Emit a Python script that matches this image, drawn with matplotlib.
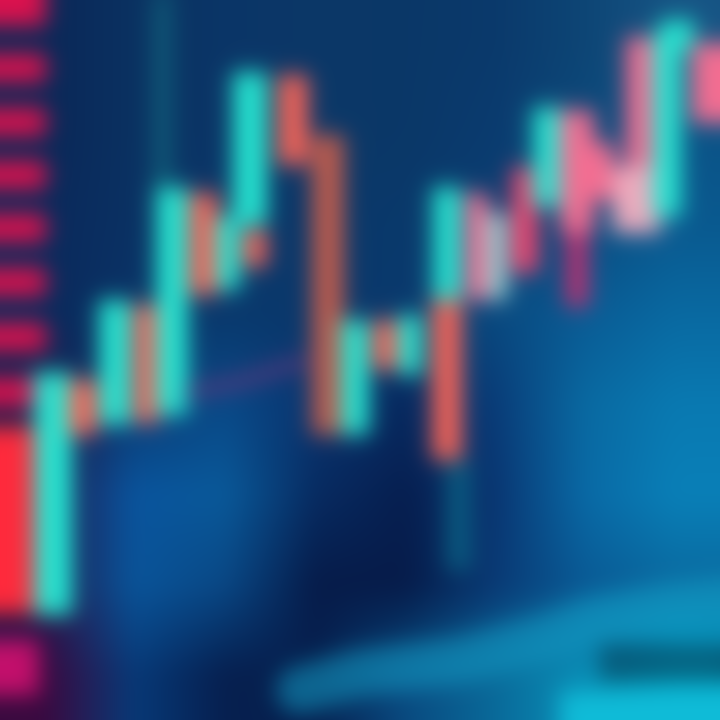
import numpy as np
import matplotlib
matplotlib.use('Agg')
import matplotlib.pyplot as plt
from matplotlib.colors import to_rgb


# candles: position, open, close (price units, 0 = bottom, 720 = top)
cx     = [53, 83, 115, 147, 172, 204, 228, 250, 255, 293, 328, 355, 385, 410, 447, 447, 477, 497, 525, 547, 577, 603, 637, 640, 667, 677, 707]
opens  = [105, 340, 295, 415, 305, 527, 430, 495, 490, 645, 585, 285, 400, 345, 390, 420, 527, 420, 553, 513, 610, 577, 553, 683, 503, 670, 677]
closes = [348, 285, 420, 297, 533, 425, 503, 648, 453, 555, 285, 400, 350, 405, 533, 260, 420, 507, 447, 613, 487, 520, 487, 553, 687, 700, 597]
tone   = ['c', 'r', 'c', 'r', 'c', 'r', 'c', 'c', 'r', 'r', 'b', 'c', 'r', 'c', 'c', 'r', 'p', 'g', 'm', 'c', 'p', 'p', 'l', 'p', 'c', 'c', 'p']

# left-hand price ladder
ladder_y = [708, 652, 598, 545, 492, 438, 383, 328]
block_lo, block_hi = 107, 293
pink_lo, pink_hi = 25, 80

# faint moving average and the glowing line at the bottom
ma_x = [190, 240, 300]
ma_y = [328, 338, 358]
glow_x = [300, 360, 460, 547, 593, 660, 720]
glow_y = [30, 47, 60, 83, 100, 113, 120]

widths = [38, 28, 32, 26, 32, 28, 24, 34, 24, 30, 32, 28, 24, 24, 28, 30, 22, 22, 26, 28, 34, 22, 48, 28, 28, 34, 30]
palette = {'c': '#26e6d2', 'r': '#f46458', 'b': '#bc5c4e', 'p': '#f46e92',
           'g': '#90c8cc', 'm': '#f0446e', 'l': '#eeacbe'}

bg_rows = [
    ['#0a2858', '#0b3262', '#0b3668', '#0c3868', '#0b3868', '#0b3a6c', '#0e4676', '#175585'],
    ['#0a2858', '#0b3262', '#0b3668', '#0c3868', '#0b3868', '#0b3c70', '#0c4a7c', '#0c5488'],
    ['#0a2a5c', '#0b3264', '#0b386a', '#0b386a', '#0a3a6c', '#0a4074', '#0a4c80', '#0a5a90'],
    ['#0a2a5c', '#0a3468', '#0a3a6e', '#0a386c', '#0a3a6e', '#0a4a80', '#0a5c95', '#0a6aa2'],
    ['#1c2050', '#0a3c74', '#0a4a88', '#0a3570', '#082a60', '#0a3c78', '#0a6aa2', '#0a7ab2'],
    ['#201c50', '#0a559e', '#0a5a9a', '#082c62', '#071f50', '#0a3672', '#0a6aa6', '#0a80b8'],
    ['#201c50', '#0a559a', '#0a4885', '#061c4a', '#061c4a', '#0a3a75', '#0a5a95', '#0a6aa0'],
    ['#3a0a40', '#083a78', '#062050', '#07204f', '#0a4a80', '#0a6a9a', '#0a90b8', '#06b0d0'],
]
bg = np.array([[to_rgb(c) for c in row] for row in bg_rows])

fig = plt.figure(figsize=(7.2, 7.2), dpi=100)
ax = fig.add_axes([0, 0, 1, 1])
ax.imshow(bg, extent=(0, 720, 0, 720), interpolation='bilinear', aspect='auto')

# ladder on the left
ax.bar([22] * len(ladder_y), 28, bottom=[y - 14 for y in ladder_y], width=48, color='#dc124e')
ax.bar([18], block_hi - block_lo, bottom=block_lo, width=40, color='#ff2a3c')
ax.bar([18], pink_hi - pink_lo, bottom=pink_lo, width=42, color='#c4106c')

# wicks
ax.vlines(162, 533, 720, color='#0f5a78', lw=14)
ax.vlines(458, 150, 260, color='#0a5a80', lw=18)
ax.vlines(577, 413, 487, color='#c03070', lw=16)

ax.plot(ma_x, ma_y, color='#5a3a80', lw=8)
ax.plot(glow_x, glow_y, color='#14a0c8', lw=34, alpha=0.55, solid_capstyle='round')
ax.fill_between([560, 720], 0, 28, color='#10bcd8')
ax.fill_between([600, 720], 40, 75, color='#05304a', alpha=0.55)

lo = [min(o, c) for o, c in zip(opens, closes)]
hi = [max(o, c) for o, c in zip(opens, closes)]
ax.bar(cx, [h - l for h, l in zip(hi, lo)], bottom=lo, width=widths,
       color=[palette[t] for t in tone])

ax.set_xlim(0, 720)
ax.set_ylim(0, 720)
ax.axis('off')

fig.canvas.draw()
img = np.asarray(fig.canvas.buffer_rgba())[..., :3].astype(float) / 255.0
plt.close(fig)


def blur(a, s):
    r = int(3 * s)
    k = np.exp(-np.arange(-r, r + 1) ** 2 / (2 * s * s))
    k /= k.sum()
    p = np.pad(a, ((r, r), (r, r), (0, 0)), mode='edge')
    out = np.zeros_like(p)
    for i, w in enumerate(k):
        out[:, r:-r] += w * p[:, i:i + p.shape[1] - 2 * r]
    p = out
    out = np.zeros_like(p)
    for i, w in enumerate(k):
        out[r:-r] += w * p[i:i + p.shape[0] - 2 * r]
    return out[r:-r, r:-r]


img = np.clip(blur(img, 11), 0, 1)
plt.imsave('out.png', img)
